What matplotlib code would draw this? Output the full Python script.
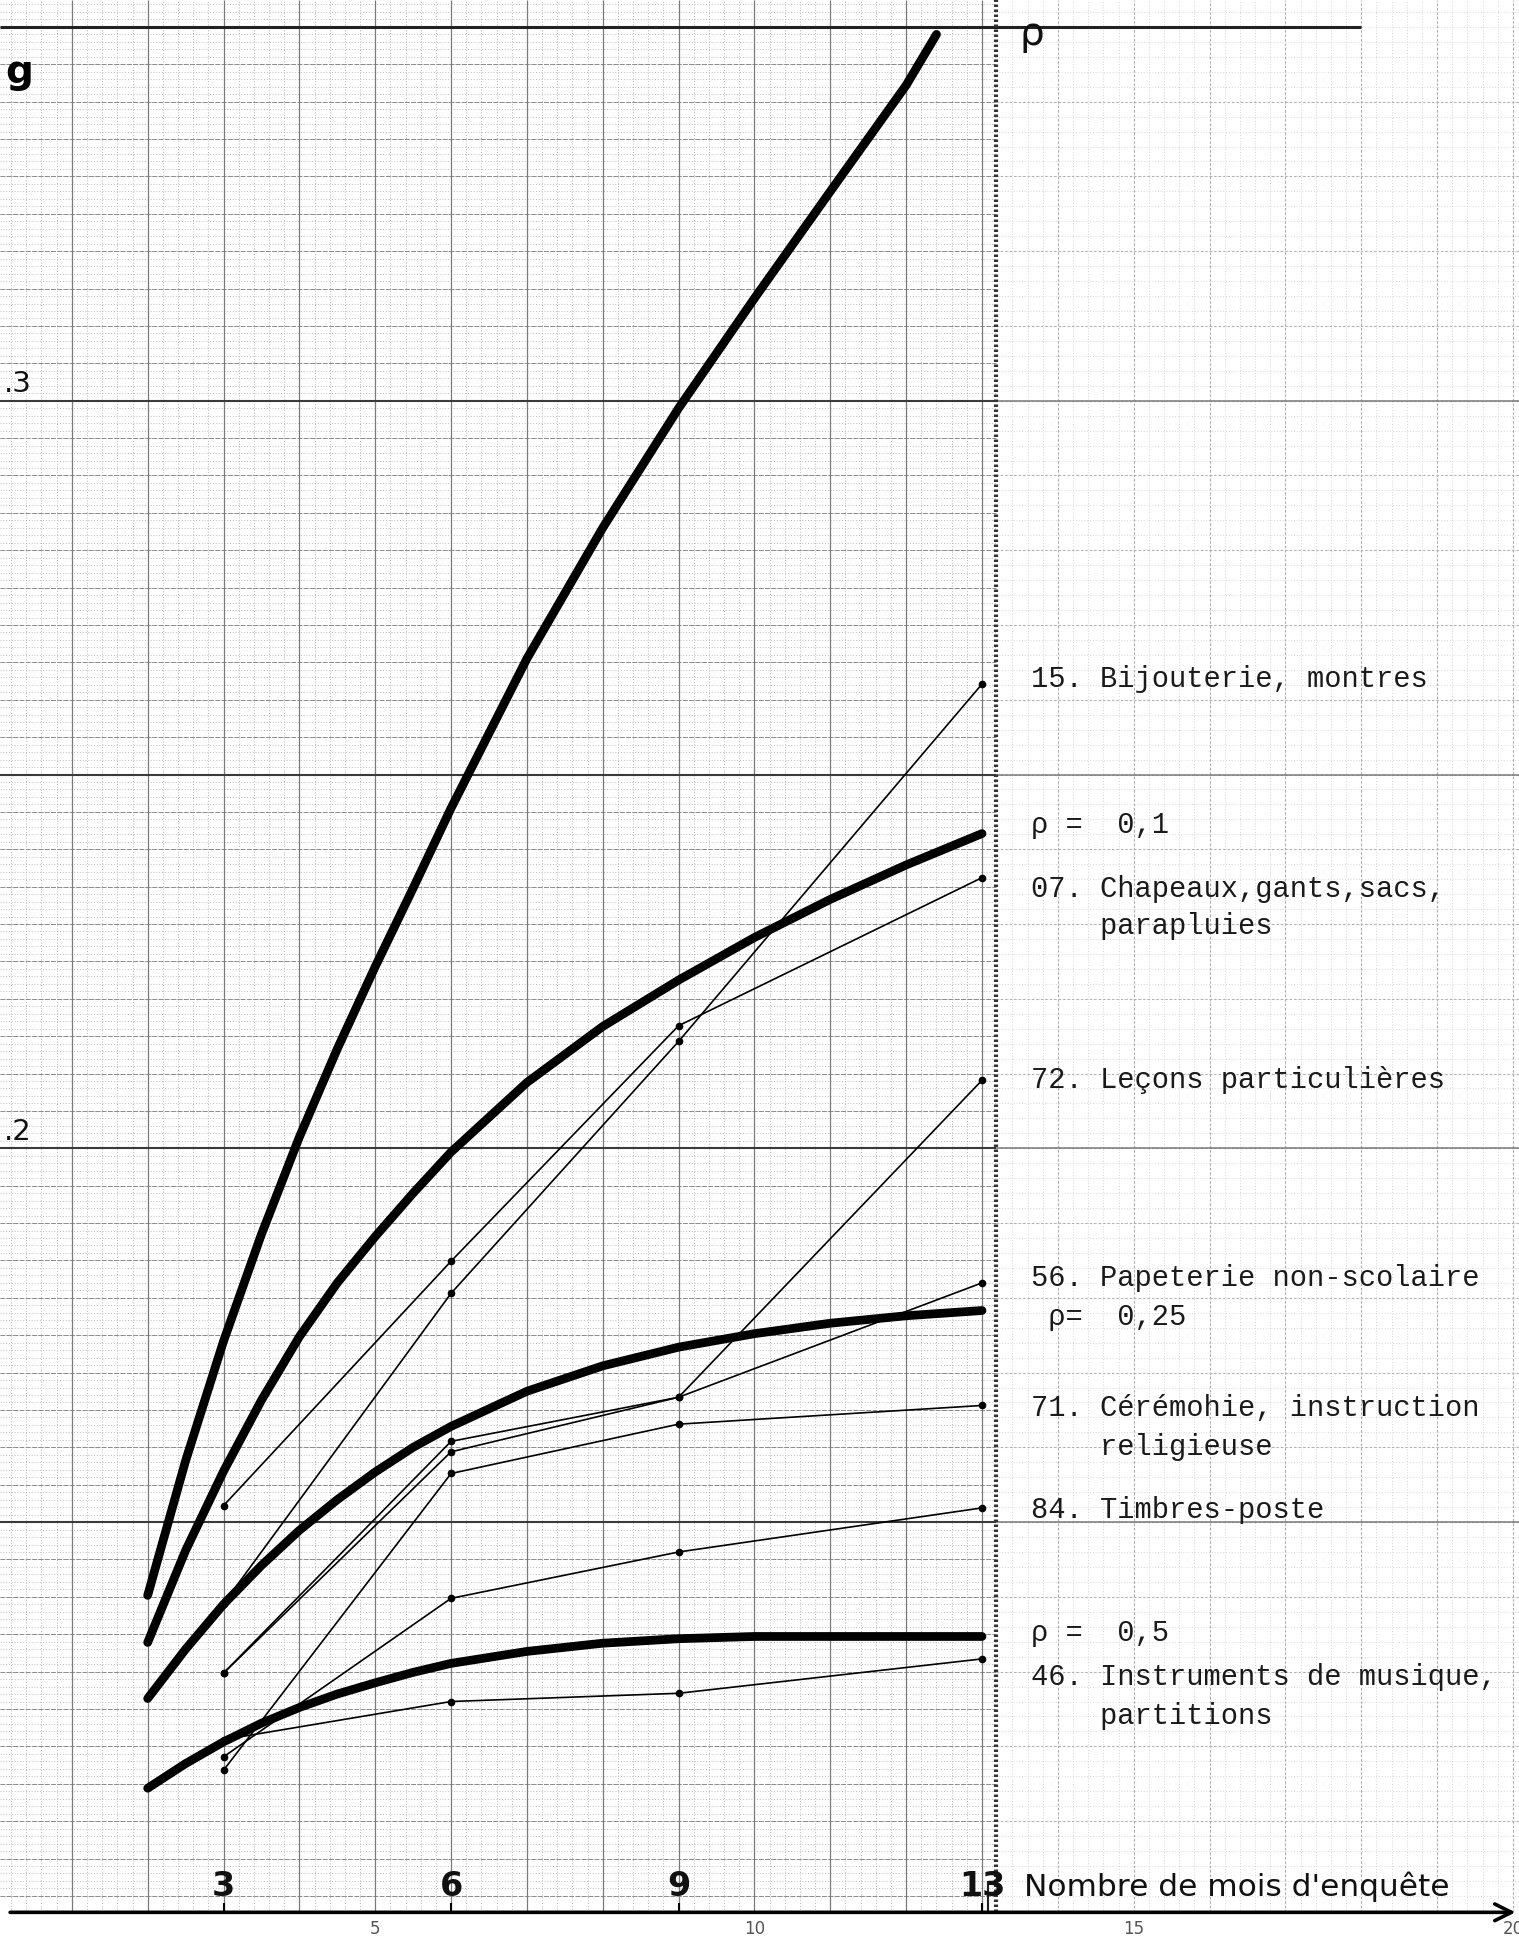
import numpy as np
import matplotlib
matplotlib.use("Agg")
from matplotlib import pyplot as plt

# months of the enquiry
mois = [3, 6, 9, 13]

# thin lines (one per group of products)
s15 = [1.391, 1.806, 2.143, 2.621]
s07 = [1.522, 1.849, 2.164, 2.362]
s72 = [1.298, 1.608, 1.667, 2.091]
s56 = [1.298, 1.594, 1.667, 1.820]
s71 = [1.168, 1.565, 1.631, 1.656]
s84 = [1.186, 1.398, 1.460, 1.519]
s46 = [1.209, 1.260, 1.271, 1.317]

# thick theoretical curves, read every half month then every month
mois_a = [2, 2.5, 3, 3.5, 4, 4.5, 5, 5.5, 6, 7, 8, 9, 10, 11, 12, 12.4]
rho_a = [1.402, 1.582, 1.742, 1.885, 2.015, 2.133, 2.243, 2.348, 2.455,
         2.655, 2.83, 2.99, 3.137, 3.28, 3.422, 3.49]
mois_c = [2, 2.5, 3, 3.5, 4, 4.5, 5, 5.5, 6, 7, 8, 9, 10, 11, 12, 13]
rho_01 = [1.339, 1.462, 1.568, 1.663, 1.748, 1.82, 1.882, 1.94, 1.995,
          2.088, 2.163, 2.225, 2.282, 2.333, 2.379, 2.421]
rho_025 = [1.264, 1.330, 1.390, 1.442, 1.489, 1.530, 1.567, 1.600, 1.628,
           1.675, 1.709, 1.734, 1.752, 1.766, 1.776, 1.783]
rho_05 = [1.144, 1.177, 1.206, 1.231, 1.252, 1.270, 1.285, 1.299, 1.311,
          1.327, 1.338, 1.344, 1.347, 1.347, 1.347, 1.347]

# labels on the right
labels = ["15. Bijouterie, montres",
          "ρ =  0,1",
          "07. Chapeaux,gants,sacs,",
          "    parapluies",
          "72. Leçons particulières",
          "56. Papeterie non-scolaire",
          " ρ=  0,25",
          "71. Cérémohie, instruction",
          "    religieuse",
          "84. Timbres-poste",
          "ρ =  0,5",
          "46. Instruments de musique,",
          "    partitions"]
label_y = [2.628, 2.433, 2.347, 2.298, 2.091, 1.826, 1.774, 1.653, 1.600, 1.516, 1.352, 1.293, 1.240]

xticks_big = ["3", "6", "9", "13"]
xticks_small = [5, 10, 15, 20]

fig = plt.figure(figsize=(15.19, 19.37), dpi=100)
ax = fig.add_axes([0, 0, 1, 1])
ax.set_xlim(0.053, 20.08)
ax.set_ylim(0.945, 3.536)
ax.axis("off")

# --- graph paper ---
xsplit = 13.18
ybase = 0.978
ytop = 3.536
dots = (0, (1.2, 2.2))

# left sheet, dense grid
ax.vlines(np.arange(0.2, xsplit, 0.2), ybase, ytop, color="#b0b0b0", lw=0.6, ls=dots, zorder=1)
ax.hlines(np.arange(1.0, 3.54, 0.01), 0.053, xsplit, color="#b4b4b4", lw=0.6, ls=dots, zorder=1)
ax.hlines(np.arange(1.0, 3.54, 0.05), 0.053, xsplit, color="#8c8c8c", lw=0.7, ls=(0, (5, 1.5)), zorder=1)
ax.vlines(np.arange(1, 14), ybase, ytop, color="#7a7a7a", lw=0.9, zorder=1)

# right sheet, lighter grid
ax.vlines(np.arange(13.4, 20.1, 0.2), ybase, ytop, color="#d0d0d0", lw=0.6, ls=dots, zorder=1)
ax.hlines(np.arange(1.0, 3.54, 0.02), xsplit, 20.08, color="#d4d4d4", lw=0.6, ls=dots, zorder=1)
ax.vlines(np.arange(14, 21), ybase, ytop, color="#a8a8a8", lw=0.8, ls=(0, (2, 2)), zorder=1)
ax.hlines(np.arange(1.1, 3.5, 0.1), xsplit, 20.08, color="#b0b0b0", lw=0.8, ls=(0, (2, 2)), zorder=1)

# heavy lines every 0.5
ax.hlines([1.5, 2.0, 2.5, 3.0], 0.053, xsplit, color="#3a3a3a", lw=1.5, zorder=1)
ax.hlines([1.5, 2.0, 2.5, 3.0], xsplit, 20.08, color="#7a7a7a", lw=1.1, zorder=1)
ax.hlines([3.5], 0.053, 18.0, color="#222222", lw=2.2, zorder=2)
ax.vlines([xsplit], ybase, ytop, color="#333333", lw=3.0, ls=(0, (0.6, 0.6)), zorder=2)
ax.vlines([13.08], ybase, 1.02, color="#222222", lw=1.5, zorder=2)

# --- curves ---
thick = dict(color="black", lw=6.3, solid_capstyle="round", solid_joinstyle="round", zorder=4)
ax.plot(mois_a, rho_a, **thick)
ax.plot(mois_c, rho_01, **thick)
ax.plot(mois_c, rho_025, **thick)
ax.plot(mois_c, rho_05, **thick)

thin = dict(color="black", lw=1.2, marker="o", ms=4.5, zorder=5)
for s in [s15, s07, s72, s56, s71, s84, s46]:
    ax.plot(mois, s, **thin)

# --- axis ---
ax.annotate("", xy=(20.07, ybase), xytext=(0.15, ybase),
            arrowprops=dict(arrowstyle="->", lw=2.6, color="black", mutation_scale=30))
ax.vlines(mois, ybase, ybase + 0.012, color="black", lw=1.5, zorder=5)
for m, t in zip(mois, xticks_big):
    ax.text(m, ybase + 0.012, t, ha="center", va="bottom", fontsize=24,
            fontweight="bold", color="#111111")
for v in xticks_small:
    ax.text(v, ybase - 0.01, str(v), ha="center", va="top", fontsize=12, color="#555555")
ax.text(13.55, ybase + 0.014, "Nombre de mois d'enquête", ha="left", va="bottom",
        fontsize=22.5, color="#111111")

# y labels
ax.text(0.12, 3.44, "g", ha="left", va="center", fontsize=28, fontweight="bold")
ax.text(0.1, 3.003, ".3", ha="left", va="bottom", fontsize=21, color="#111111")
ax.text(0.1, 2.003, ".2", ha="left", va="bottom", fontsize=21, color="#111111")
ax.text(13.5, 3.49, "ρ", ha="left", va="center", fontsize=28, color="#111111")

# right hand labels
for t, y in zip(labels, label_y):
    ax.text(13.65, y, t, ha="left", va="center", fontsize=20.7,
            family=["Liberation Mono", "DejaVu Sans Mono"], color="#1a1a1a", zorder=6)

fig.savefig("out.png", dpi=100, facecolor="white")
